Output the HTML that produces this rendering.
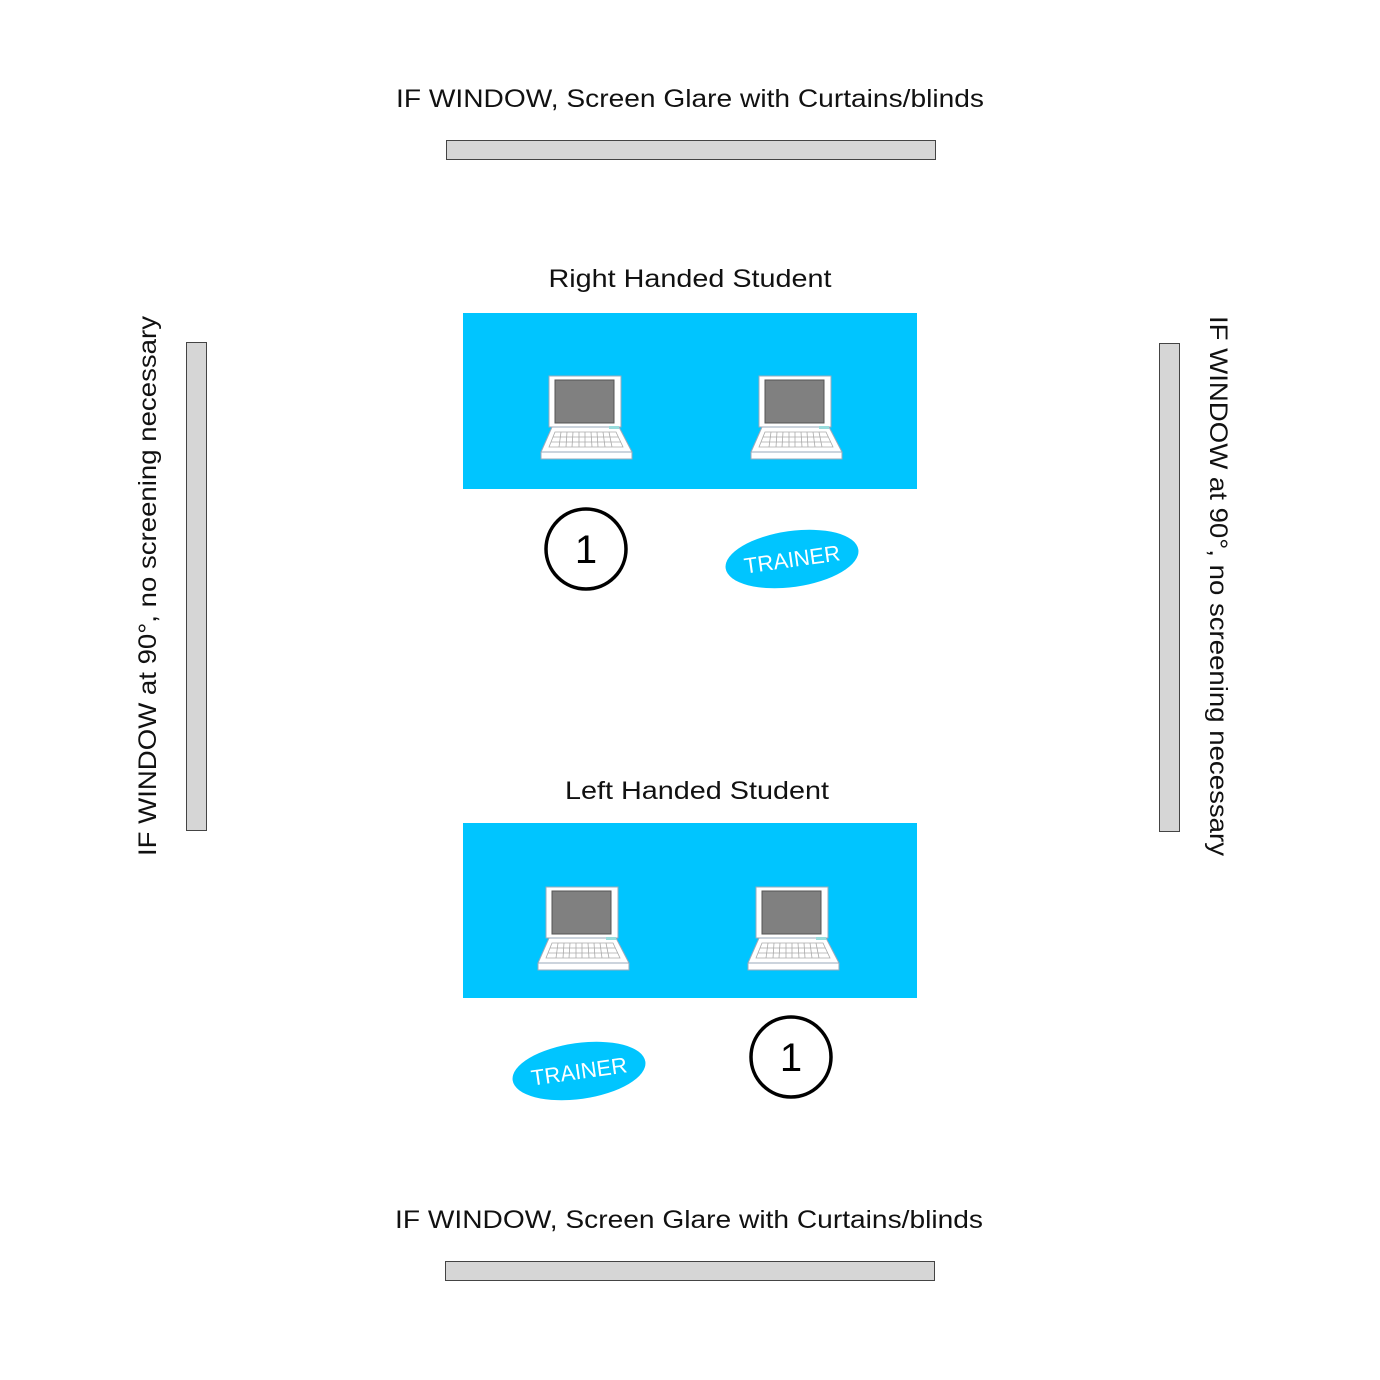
<!DOCTYPE html>
<html><head><meta charset="utf-8"><style>html,body{margin:0;padding:0;background:#fff}svg{display:block}</style></head>
<body>
<svg width="1380" height="1380" viewBox="0 0 1380 1380" xmlns="http://www.w3.org/2000/svg" font-family="Liberation Sans, sans-serif">
<defs>
<g id="lap">
  <rect x="0" y="0" width="72" height="51" fill="#fff" stroke="#9ab" stroke-width="1"/>
  <rect x="6" y="4" width="59" height="43" fill="#808080" stroke="#555" stroke-width="1"/>
  <polygon points="3,51 70,51 83,76 -8,76" fill="#fff" stroke="#9ab" stroke-width="1"/>
  <rect x="-8" y="76" width="91" height="7" fill="#fff" stroke="#9ab" stroke-width="1"/>
  <rect x="60" y="50" width="10" height="3" fill="#9dd" />
  <g stroke="#aaa" stroke-width="0.8" fill="none">
    <polygon points="6,56 67,56 74,71 0,71"/>
    <line x1="4" y1="61" x2="69" y2="61"/>
    <line x1="2" y1="66" x2="72" y2="66"/>
    <path d="M12 56 L10 71 M18 56 L17 71 M24 56 L23 71 M30 56 L30 71 M36 56 L36 71 M42 56 L43 71 M48 56 L49 71 M54 56 L56 71 M60 56 L63 71"/>
  </g>
</g>
</defs>
<g font-size="25" fill="#111">
<text x="690" y="107" text-anchor="middle" textLength="588" lengthAdjust="spacingAndGlyphs">IF WINDOW, Screen Glare with Curtains/blinds</text>
<text x="689" y="1228" text-anchor="middle" textLength="588" lengthAdjust="spacingAndGlyphs">IF WINDOW, Screen Glare with Curtains/blinds</text>
<text x="690" y="287" text-anchor="middle" textLength="283" lengthAdjust="spacingAndGlyphs">Right Handed Student</text>
<text x="697" y="799" text-anchor="middle" textLength="264" lengthAdjust="spacingAndGlyphs">Left Handed Student</text>
<text transform="translate(156,586) rotate(-90)" text-anchor="middle" textLength="540" lengthAdjust="spacingAndGlyphs">IF WINDOW at 90°, no screening necessary</text>
<text transform="translate(1210,586) rotate(90)" text-anchor="middle" textLength="540" lengthAdjust="spacingAndGlyphs">IF WINDOW at 90°, no screening necessary</text>
</g>
<g fill="#d6d6d6" stroke="#444" stroke-width="1">
<rect x="446.5" y="140.5" width="489" height="19"/>
<rect x="445.5" y="1261.5" width="489" height="19"/>
<rect x="186.5" y="342.5" width="20" height="488"/>
<rect x="1159.5" y="343.5" width="20" height="488"/>
</g>
<rect x="463" y="313" width="454" height="176" fill="#00c5ff"/>
<rect x="463" y="823" width="454" height="175" fill="#00c5ff"/>
<use href="#lap" x="549" y="376"/>
<use href="#lap" x="759" y="376"/>
<use href="#lap" x="546" y="887"/>
<use href="#lap" x="756" y="887"/>
<circle cx="586" cy="549" r="40" fill="#fff" stroke="#000" stroke-width="3.5"/>
<text x="586" y="563" font-size="40" text-anchor="middle">1</text>
<circle cx="791" cy="1057" r="40" fill="#fff" stroke="#000" stroke-width="3.5"/>
<text x="791" y="1071" font-size="40" text-anchor="middle">1</text>
<g transform="translate(792,559) rotate(-8)">
<ellipse rx="67" ry="28" fill="#00c5ff"/>
<text y="8" font-size="22" fill="#fff" text-anchor="middle">TRAINER</text>
</g>
<g transform="translate(579,1071) rotate(-8)">
<ellipse rx="67" ry="28" fill="#00c5ff"/>
<text y="8" font-size="22" fill="#fff" text-anchor="middle">TRAINER</text>
</g>
</svg>
</body></html>
